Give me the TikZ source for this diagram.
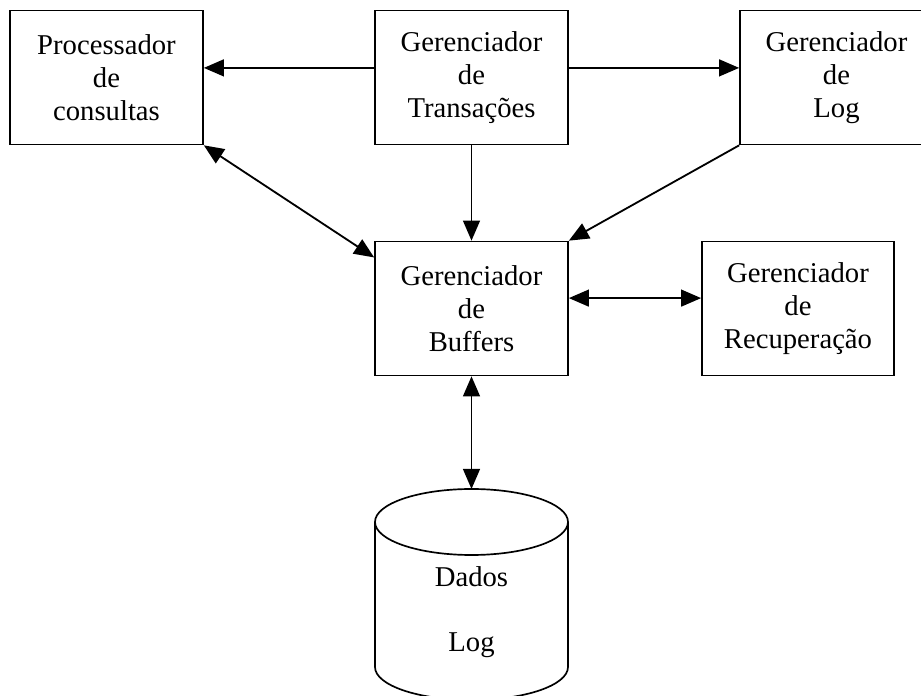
\documentclass[tikz,border=0pt]{standalone}
\usepackage{fontspec}
\setmainfont{Liberation Serif}
\usepackage{tikz}
\usetikzlibrary{arrows.meta, positioning, calc}
\tikzset{
  block/.style={rectangle, draw=black, fill=white,
    text width=4.5cm, align=center, minimum width=4.825cm, minimum height=3.35cm,
    inner sep=0pt, line width=1.2pt, font=\fontsize{20.4}{23.5}\selectfont},
  txt/.style={inner sep=0pt, font=\fontsize{20.4}{23.5}\selectfont},
  arrow/.style={-{Triangle[length=0.5cm, width=0.42cm]}, line width=1.3pt},
  dblarrow/.style={{Triangle[length=0.5cm, width=0.42cm]}-{Triangle[length=0.5cm, width=0.42cm]}, line width=1.3pt}
}
\begin{document}
\begin{tikzpicture}
  \useasboundingbox (0,0) rectangle (23.025,17.4);
  \clip (0,0) rectangle (23.025,17.4);

  % Top row
  \node[block] (proc) at (2.6625,15.4625) {Processador\\de\\consultas};
  \node[block] (trans) at (11.7875,15.4625) {Gerenciador\\de\\Transações};
  \node[block] (logm) at (20.9125,15.4625) {Gerenciador\\de\\Log};

  % Middle row
  \node[block] (buf) at (11.7875,9.6875) {Gerenciador\\de\\Buffers};
  \node[block, minimum width=4.8cm] (recup) at (19.95,9.6875) {Gerenciador\\de\\Recuperação};

  % Database cylinder
  \coordinate (dbtop) at (11.7875,5.175);
  \draw[line width=1.2pt, fill=white] (9.375,4.35) -- (9.375,0.725)
    arc[start angle=180, end angle=360, x radius=2.4125cm, y radius=0.825cm] -- (14.2,4.35);
  \draw[line width=1.2pt] (11.7875,4.35) ellipse [x radius=2.4125cm, y radius=0.825cm];
  \node[txt] (dados) at (11.7875,2.975) {Dados};
  \node[txt] (dblog) at (11.7875,1.275) {Log};

  % Connectors
  \draw[arrow] ([yshift=0.24cm]trans.west) -- ([yshift=0.24cm]proc.east);
  \draw[arrow] ([yshift=0.24cm]trans.east) -- ([yshift=0.24cm]logm.west);
  \draw[arrow] (trans.south) -- (buf.north);
  \draw[dblarrow] (proc.south east) -- ([yshift=-0.42cm]buf.north west);
  \draw[arrow] (logm.south west) -- (buf.north east);
  \draw[dblarrow] ([yshift=0.26cm]buf.east) -- ([yshift=0.26cm]recup.west);
  \draw[dblarrow] (buf.south) -- (dbtop);
\end{tikzpicture}
\end{document}
